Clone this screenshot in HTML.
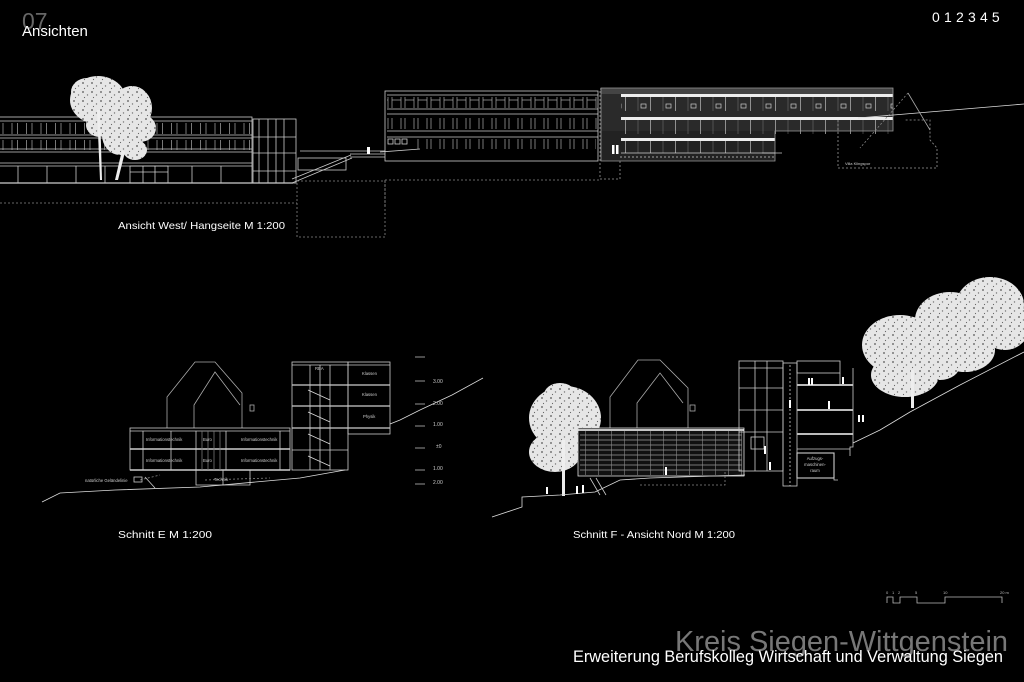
<!DOCTYPE html>
<html><head><meta charset="utf-8">
<style>
html,body{margin:0;padding:0;background:#000;}
svg{display:block;}
text{font-family:"Liberation Sans",sans-serif;}
</style></head>
<body>
<svg width="1024" height="682" viewBox="0 0 1024 682" xmlns="http://www.w3.org/2000/svg">
<defs>
<pattern id="winL" x="0" y="0" width="14.5" height="100" patternUnits="userSpaceOnUse">
<rect x="3" y="0" width="9" height="100" fill="none" stroke="#aaa" stroke-width="0.7"/>
</pattern>
<pattern id="winR" x="0" y="0" width="13" height="100" patternUnits="userSpaceOnUse">
<rect x="2" y="0" width="9" height="100" fill="none" stroke="#aaa" stroke-width="0.7"/>
</pattern>
<pattern id="winLong" x="0" y="0" width="25" height="100" patternUnits="userSpaceOnUse">
<line x1="0.5" y1="0" x2="0.5" y2="100" stroke="#aaa" stroke-width="0.8"/>
<line x1="13" y1="0" x2="13" y2="100" stroke="#777" stroke-width="0.5"/>
<rect x="16" y="4" width="5" height="4" fill="none" stroke="#ccc" stroke-width="0.7"/>
</pattern>
<pattern id="gridF" x="0" y="0" width="13" height="100" patternUnits="userSpaceOnUse">
<line x1="0.5" y1="0" x2="0.5" y2="100" stroke="#888" stroke-width="0.6"/>
</pattern>
<pattern id="leaf" x="0" y="0" width="9" height="9" patternUnits="userSpaceOnUse">
<rect width="9" height="9" fill="#e6e6e6"/>
<circle cx="2" cy="2" r="0.9" fill="#555"/>
<circle cx="6.5" cy="5" r="0.7" fill="#777"/>
<circle cx="3.5" cy="7.5" r="0.6" fill="#666"/>
</pattern>
</defs>

<!-- header -->
<text x="22" y="29" font-size="23" fill="#666">07</text>
<text x="22" y="36" font-size="15" fill="#fff">Ansichten</text>
<text x="932" y="22" font-size="14" fill="#fff" letter-spacing="4.2">012345</text>

<g fill="none" stroke="#ccc" stroke-width="0.8">
<!-- left building -->
<rect x="-2" y="117" width="254" height="66"/>
<line x1="0" y1="121" x2="252" y2="121"/>
<line x1="0" y1="135" x2="252" y2="135"/>
<line x1="0" y1="138" x2="252" y2="138"/>
<line x1="0" y1="149" x2="252" y2="149"/>
<line x1="0" y1="152" x2="252" y2="152"/>
<line x1="0" y1="163" x2="252" y2="163"/>
<line x1="0" y1="166" x2="252" y2="166"/>
<rect x="0" y="123" width="250" height="11" fill="url(#winL)" stroke="none"/>
<rect x="0" y="140" width="250" height="10" fill="url(#winL)" stroke="none"/>
<line x1="18" y1="166" x2="18" y2="183"/><line x1="47" y1="166" x2="47" y2="183"/>
<line x1="76" y1="166" x2="76" y2="183"/><line x1="105" y1="166" x2="105" y2="183"/>
<line x1="192" y1="166" x2="192" y2="183"/><line x1="221" y1="166" x2="221" y2="183"/>
<rect x="130" y="166" width="38" height="17"/>
<line x1="130" y1="172" x2="168" y2="172"/><line x1="143" y1="166" x2="143" y2="183"/><line x1="155" y1="166" x2="155" y2="183"/>
<!-- tower -->
<rect x="253" y="119" width="43" height="64"/>
<line x1="259" y1="119" x2="259" y2="183"/><line x1="268" y1="119" x2="268" y2="183"/>
<line x1="276" y1="119" x2="276" y2="183"/><line x1="284" y1="119" x2="284" y2="183"/>
<line x1="253" y1="137" x2="296" y2="137"/><line x1="253" y1="153" x2="296" y2="153"/><line x1="253" y1="171" x2="296" y2="171"/>
<line x1="0" y1="183" x2="293" y2="183" stroke-width="1.2"/>
<line x1="0" y1="203" x2="297" y2="203" stroke-dasharray="2,2" stroke="#888"/>
<!-- ramp area -->
<line x1="300" y1="151" x2="385" y2="151"/>
<rect x="298" y="158" width="48" height="12"/>
<line x1="292" y1="183" x2="352" y2="158"/><line x1="292" y1="179" x2="351" y2="155"/>
<line x1="350" y1="157" x2="385" y2="157"/><line x1="350" y1="154" x2="385" y2="154"/>
<rect x="297" y="181" width="88" height="56" stroke-dasharray="2,2" stroke="#888"/>
<line x1="385" y1="180" x2="600" y2="180" stroke-dasharray="2,2" stroke="#888"/>
<line x1="385" y1="180" x2="385" y2="207" stroke-dasharray="2,2" stroke="#888"/>
<!-- right old building -->
<rect x="385" y="91" width="213" height="70"/>
<line x1="387" y1="95" x2="598" y2="95"/>
<line x1="387" y1="109" x2="598" y2="109"/><line x1="387" y1="114" x2="598" y2="114"/>
<line x1="387" y1="131" x2="598" y2="131"/><line x1="387" y1="137" x2="598" y2="137"/>
<rect x="387" y="97" width="210" height="11" fill="url(#winR)" stroke="none"/>
<rect x="387" y="118" width="210" height="11" fill="url(#winR)" stroke="none"/>
<rect x="416" y="139" width="180" height="10" fill="url(#winR)" stroke="none"/>
<rect x="388" y="139" width="5" height="5"/><rect x="395" y="139" width="5" height="5"/><rect x="402" y="139" width="5" height="5"/>
<line x1="380" y1="152" x2="420" y2="149"/>
<!-- stair core -->
<rect x="600" y="89" width="20" height="90" stroke-dasharray="2,2" stroke="#999"/>
<line x1="605" y1="110" x2="620" y2="110"/><line x1="605" y1="132" x2="620" y2="132"/>
<rect x="601" y="142" width="19" height="13"/>
<!-- long building -->
<rect x="601" y="88" width="292" height="43" fill="#2a2a2a" stroke="none"/>
<rect x="601" y="131" width="174" height="30" fill="#222" stroke="none"/>
<rect x="601" y="88" width="292" height="6" fill="#444" stroke="none"/>
<rect x="621" y="94" width="272" height="3" fill="#eee" stroke="none"/>
<rect x="621" y="117" width="272" height="3" fill="#eee" stroke="none"/>
<rect x="621" y="138" width="154" height="3" fill="#eee" stroke="none"/>
<rect x="621" y="97" width="272" height="14" fill="url(#winLong)" stroke="none"/>
<rect x="621" y="120" width="272" height="14" fill="url(#winLong)" stroke="none"/>
<rect x="621" y="141" width="154" height="12" fill="url(#winLong)" stroke="none"/>
<path d="M601 161 V88 H893 V131 H775 V161 Z" stroke="#999"/>
<line x1="621" y1="153" x2="775" y2="153"/>
<line x1="620" y1="157" x2="776" y2="157" stroke-dasharray="2,2"/>
<!-- slope & villa -->
<line x1="858" y1="118" x2="1024" y2="104" stroke="#ddd"/>
<line x1="908" y1="93" x2="860" y2="148" stroke-dasharray="2,2" stroke="#888"/>
<line x1="908" y1="93" x2="930" y2="130" stroke="#aaa"/>
<path d="M838 120 V168 H937 V148 L930 140 V120 H905" stroke-dasharray="2,2" stroke="#999"/>
<line x1="762" y1="153" x2="782" y2="153"/>
</g>
<text x="845" y="165" font-size="4" fill="#ccc">Villa Klingspor</text>
<text x="118" y="229" font-size="10.5" fill="#fff" textLength="167" lengthAdjust="spacingAndGlyphs">Ansicht West/ Hangseite  M 1:200</text>
<rect x="367" y="147" width="3" height="7" fill="#fff"/>
<rect x="612" y="145" width="2.5" height="9" fill="#fff"/><rect x="616" y="145" width="2.5" height="9" fill="#fff"/>

<!-- tree west -->
<g fill="url(#leaf)">
<ellipse cx="98" cy="100" rx="28" ry="24"/>
<ellipse cx="87" cy="92" rx="16" ry="14"/>
<ellipse cx="132" cy="108" rx="20" ry="22"/>
<ellipse cx="140" cy="128" rx="16" ry="14"/>
<ellipse cx="120" cy="135" rx="18" ry="20"/>
<ellipse cx="135" cy="150" rx="12" ry="10"/>
<ellipse cx="100" cy="125" rx="14" ry="12"/>
</g>
<path d="M97 110 L100 180 L102 180 L100 110Z" fill="#eee"/>
<path d="M122 150 L115 180 L118 180 L125 152Z" fill="#eee"/>

<!-- ========== SCHNITT E ========== -->
<g fill="none" stroke="#ccc" stroke-width="0.8">
<path d="M167 428 V397 L195 362 H215 L242 393 V428" stroke="#aaa"/>
<path d="M194 428 V405 L215 372 L240 405" stroke="#aaa"/>
<rect x="250" y="405" width="4" height="6" stroke="#aaa"/>
<rect x="130" y="428" width="160" height="42"/>
<line x1="130" y1="431" x2="290" y2="431"/>
<line x1="130" y1="449" x2="290" y2="449" stroke-width="1.4"/>
<line x1="130" y1="470" x2="290" y2="470" stroke-width="1.4"/>
<line x1="143" y1="431" x2="143" y2="470"/><line x1="171" y1="431" x2="171" y2="470"/>
<line x1="196" y1="431" x2="196" y2="470"/><line x1="226" y1="431" x2="226" y2="470"/>
<line x1="280" y1="431" x2="280" y2="470"/>
<line x1="202" y1="431" x2="202" y2="470" stroke="#777"/><line x1="208" y1="431" x2="208" y2="470" stroke="#777"/><line x1="214" y1="431" x2="214" y2="470" stroke="#777"/><line x1="220" y1="431" x2="220" y2="470" stroke="#777"/>
<path d="M196 470 V485 H250 V470" /><line x1="223" y1="470" x2="223" y2="485"/>
<rect x="292" y="362" width="56" height="108"/>
<line x1="292" y1="365" x2="348" y2="365"/>
<line x1="292" y1="385" x2="390" y2="385" stroke-width="1.3"/>
<line x1="292" y1="406" x2="390" y2="406" stroke-width="1.3"/>
<line x1="292" y1="428" x2="390" y2="428" stroke-width="1.3"/>
<line x1="292" y1="450" x2="348" y2="450"/>
<line x1="310" y1="365" x2="310" y2="470"/><line x1="320" y1="365" x2="320" y2="470"/><line x1="330" y1="365" x2="330" y2="470"/>
<rect x="348" y="362" width="42" height="72"/>
<line x1="348" y1="365" x2="390" y2="365"/>
<path d="M308 390 L330 400 M308 412 L330 422 M308 434 L330 444 M308 456 L330 466" stroke="#ddd"/>
<g stroke="#bbb">
<line x1="415" y1="357" x2="425" y2="357"/><line x1="415" y1="381" x2="425" y2="381"/>
<line x1="415" y1="404" x2="425" y2="404"/><line x1="415" y1="426" x2="425" y2="426"/>
<line x1="415" y1="448" x2="425" y2="448"/><line x1="415" y1="470" x2="425" y2="470"/>
<line x1="415" y1="484" x2="425" y2="484"/>
</g>
<path d="M42 502 L60 493 L115 490 L200 487 L300 478 L345 470" stroke="#ddd"/>
<path d="M390 424 L400 420 L420 410 L452 395 L483 378" stroke="#ddd"/>
<path d="M140 480 L160 475 M205 480 L270 478" stroke-dasharray="2,2" stroke="#888"/>
<rect x="134" y="477" width="8" height="5"/>
<path d="M145 477 L155 488"/>
</g>
<g font-size="4.2" fill="#ccc">
<text x="146" y="441">Informationstechnik</text><text x="203" y="441">Buro</text><text x="241" y="441">Informationstechnik</text>
<text x="146" y="462">Informationstechnik</text><text x="203" y="462">Buro</text><text x="241" y="462">Informationstechnik</text>
<text x="214" y="481">Technik</text>
<text x="362" y="375">Klassen</text><text x="362" y="396">Klassen</text><text x="363" y="418">Physik</text>
<text x="315" y="370">RBA</text>
<text x="85" y="482">natürliche Geländelinie</text>
<text x="433" y="383" font-size="5">3.00</text><text x="433" y="405" font-size="5">2.00</text><text x="433" y="426" font-size="5">1.00</text>
<text x="436" y="448" font-size="5">±0</text><text x="433" y="470" font-size="5">1.00</text><text x="433" y="484" font-size="5">2.00</text>
</g>
<text x="118" y="538" font-size="10.5" fill="#fff" textLength="94" lengthAdjust="spacingAndGlyphs">Schnitt E  M 1:200</text>

<!-- ========== SCHNITT F ========== -->
<g fill="url(#leaf)">
<ellipse cx="565" cy="418" rx="36" ry="32"/>
<ellipse cx="555" cy="452" rx="26" ry="20"/>
<ellipse cx="585" cy="445" rx="16" ry="14"/>
<ellipse cx="560" cy="395" rx="16" ry="12"/>
</g>
<rect x="562" y="440" width="3" height="56" fill="#eee"/>
<g fill="url(#leaf)">
<ellipse cx="900" cy="345" rx="38" ry="30"/>
<ellipse cx="905" cy="375" rx="34" ry="22"/>
<ellipse cx="950" cy="320" rx="35" ry="28"/>
<ellipse cx="990" cy="305" rx="34" ry="28"/>
<ellipse cx="1005" cy="325" rx="25" ry="25"/>
<ellipse cx="965" cy="350" rx="30" ry="22"/>
<ellipse cx="940" cy="365" rx="20" ry="15"/>
</g>
<path d="M850 445 L1024 350 L1024 400 Z" fill="#000"/>
<rect x="911" y="370" width="3" height="38" fill="#eee"/>

<g fill="none" stroke="#ccc" stroke-width="0.8">
<path d="M610 428 V397 L638 360 H660 L688 388 V428" stroke="#aaa"/>
<path d="M637 428 V403 L660 373 L683 403" stroke="#aaa"/>
<rect x="690" y="405" width="5" height="6" stroke="#aaa"/>
<rect x="578" y="428" width="166" height="48" fill="#111" stroke="#ddd"/>
<line x1="578" y1="430" x2="744" y2="430" stroke="#fff" stroke-width="1.5"/>
<g stroke="#999">
<line x1="580" y1="435" x2="742" y2="435"/><line x1="580" y1="440" x2="742" y2="440"/>
<line x1="580" y1="445" x2="742" y2="445"/><line x1="580" y1="450" x2="742" y2="450"/>
<line x1="580" y1="455" x2="742" y2="455"/><line x1="580" y1="460" x2="742" y2="460"/>
<line x1="580" y1="465" x2="742" y2="465"/><line x1="580" y1="470" x2="742" y2="470"/>
</g>
<rect x="580" y="431" width="162" height="44" fill="url(#gridF)" stroke="none"/>
<rect x="739" y="361" width="44" height="110"/>
<line x1="739" y1="368" x2="783" y2="368"/>
<line x1="739" y1="388" x2="783" y2="388"/><line x1="739" y1="410" x2="783" y2="410"/><line x1="739" y1="432" x2="783" y2="432"/>
<line x1="755" y1="361" x2="755" y2="471"/><line x1="767" y1="361" x2="767" y2="471"/>
<rect x="783" y="363" width="14" height="123"/>
<line x1="790" y1="365" x2="790" y2="486" stroke-dasharray="2,2"/>
<rect x="797" y="361" width="43" height="12"/>
<line x1="797" y1="385" x2="853" y2="385" stroke-width="2" stroke="#bbb"/>
<line x1="797" y1="410" x2="853" y2="410" stroke-width="2" stroke="#bbb"/>
<line x1="797" y1="434" x2="853" y2="434" stroke-width="2" stroke="#bbb"/>
<line x1="797" y1="449" x2="850" y2="449"/>
<path d="M840 373 V385 M853 368 V447 H850 V456"/>
<rect x="797" y="453" width="37" height="25" stroke-width="1.1"/>
<path d="M834 453 V480 H838"/>
<rect x="751" y="437" width="13" height="12"/>
<path d="M492 517 L522 507 V497 L560 495 L595 492 L620 480 L650 478 L745 475" stroke="#ddd"/>
<path d="M853 443 L880 430 L910 412 L960 385 L1024 352" stroke="#ddd"/>
<path d="M640 485 H725 V470" stroke-dasharray="2,2" stroke="#888"/>
<path d="M590 478 L600 495 M596 478 L606 495"/>
</g>
<g fill="#fff">
<rect x="546" y="487" width="2" height="7"/><rect x="576" y="486" width="2" height="8"/><rect x="582" y="485" width="2" height="8"/>
<rect x="665" y="467" width="2" height="8"/><rect x="764" y="446" width="2" height="8"/><rect x="769" y="462" width="2" height="8"/>
<rect x="808" y="378" width="2" height="7"/><rect x="811" y="378" width="2" height="7"/><rect x="842" y="377" width="2" height="7"/>
<rect x="789" y="400" width="2" height="8"/><rect x="828" y="401" width="2" height="8"/>
<rect x="858" y="415" width="2" height="7"/><rect x="862" y="415" width="2" height="7"/>
</g>
<g font-size="4.2" fill="#ccc" text-anchor="middle">
<text x="815" y="460">Aufzugs-</text><text x="815" y="466">maschinen-</text><text x="815" y="472">raum</text>
</g>
<text x="573" y="538" font-size="10.5" fill="#fff" textLength="162" lengthAdjust="spacingAndGlyphs">Schnitt F - Ansicht Nord  M 1:200</text>

<!-- scale bar -->
<g fill="none" stroke="#bbb" stroke-width="0.8">
<path d="M887 603 V597 H893 V603 H900 V597 H917 V603 H945 V597 H1002 V603"/>
</g>
<g font-size="4" fill="#bbb">
<text x="886" y="594">0</text><text x="892" y="594">1</text><text x="898" y="594">2</text><text x="915" y="594">5</text><text x="943" y="594">10</text><text x="1000" y="594">20 m</text>
</g>

<!-- footer -->
<text x="675" y="651" font-size="29" fill="#777" textLength="333" lengthAdjust="spacingAndGlyphs">Kreis Siegen-Wittgenstein</text>
<text x="573" y="662" font-size="16.5" fill="#fff" textLength="430" lengthAdjust="spacingAndGlyphs">Erweiterung Berufskolleg Wirtschaft und Verwaltung Siegen</text>
</svg>
</body></html>
